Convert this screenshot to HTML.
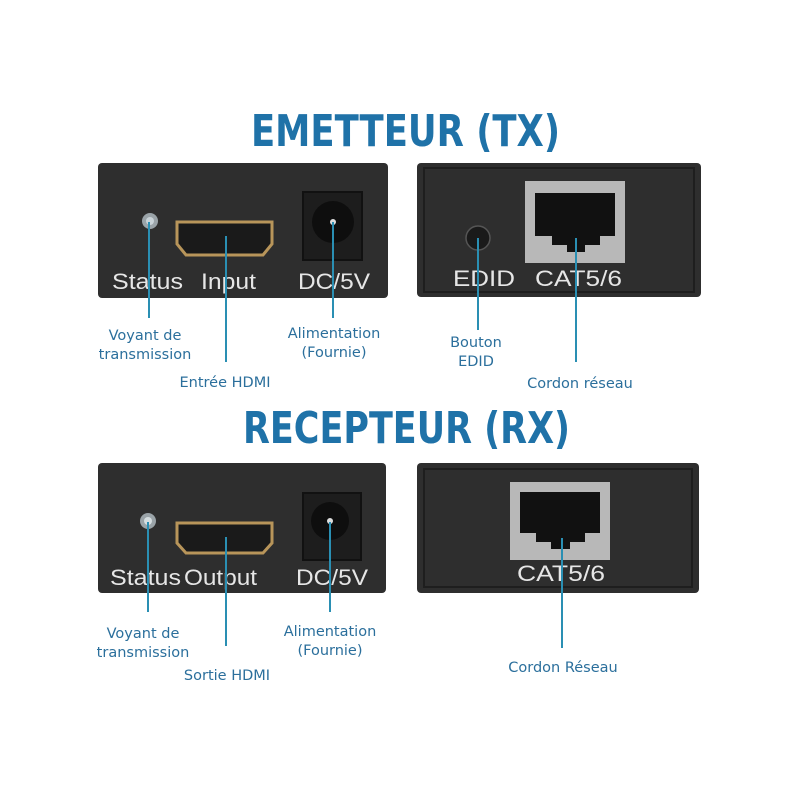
<!DOCTYPE html>
<html><head><meta charset="utf-8"><style>
html,body{margin:0;padding:0;background:#fff;}
svg{display:block;}
.t{font-family:"DejaVu Sans","Liberation Sans",sans-serif;font-weight:bold;fill:#1f72a8;}
.w{font-family:"Liberation Sans",sans-serif;fill:#e6e6e6;font-size:22px;}
.l{font-family:"DejaVu Sans","Liberation Sans",sans-serif;fill:#2b6f9c;font-size:14.5px;text-anchor:middle;}
.ln{stroke:#2a8fb3;stroke-width:2;}
</style></head><body>
<svg width="800" height="800" viewBox="0 0 800 800">
<rect width="800" height="800" fill="#fff"/>
<text class="t" x="251" y="146" font-size="44" textLength="309" lengthAdjust="spacingAndGlyphs">EMETTEUR (TX)</text>
<text class="t" x="243" y="443" font-size="44" textLength="327" lengthAdjust="spacingAndGlyphs">RECEPTEUR (RX)</text>

<!-- TX left -->
<rect x="98" y="163" width="290" height="135" rx="4" fill="#2e2e2e"/>
<circle cx="150" cy="221" r="8" fill="#9aa3a8"/><circle cx="150" cy="221" r="4" fill="#c9d3d8"/>
<path d="M177 222 H272 V244 L263 255 H186 L177 244 Z" fill="#1a1a1a" stroke="#b8955a" stroke-width="3"/>
<rect x="303" y="192" width="59" height="68" fill="#1d1d1d" stroke="#111" stroke-width="2"/>
<circle cx="333" cy="222" r="21" fill="#0e0e0e"/><circle cx="333" cy="222" r="3" fill="#ddd"/>
<text class="w" x="112" y="289" textLength="71" lengthAdjust="spacingAndGlyphs">Status</text>
<text class="w" x="201" y="289" textLength="55" lengthAdjust="spacingAndGlyphs">Input</text>
<text class="w" x="298" y="289" textLength="72" lengthAdjust="spacingAndGlyphs">DC/5V</text>
<line class="ln" x1="149" y1="222" x2="149" y2="318"/>
<line class="ln" x1="226" y1="236" x2="226" y2="362"/>
<line class="ln" x1="333" y1="222" x2="333" y2="318"/>
<text class="l" x="145" y="340">Voyant de</text><text class="l" x="145" y="359">transmission</text>
<text class="l" x="225" y="387">Entrée HDMI</text>
<text class="l" x="334" y="338">Alimentation</text><text class="l" x="334" y="357">(Fournie)</text>

<!-- TX right -->
<rect x="417" y="163" width="284" height="134" rx="4" fill="#2e2e2e"/>
<rect x="424" y="168" width="270" height="124" fill="none" stroke="#1e1e1e" stroke-width="2"/>
<circle cx="478" cy="238" r="12" fill="#1a1a1a" stroke="#555" stroke-width="1.5"/>
<rect x="525" y="181" width="100" height="82" fill="#b8b8b8"/>
<path d="M535 193 H615 V236 H600 V245 H585 V252 H567 V245 H552 V236 H535 Z" fill="#111"/>
<text class="w" x="453" y="286" textLength="62" lengthAdjust="spacingAndGlyphs">EDID</text>
<text class="w" x="535" y="286" textLength="87" lengthAdjust="spacingAndGlyphs">CAT5/6</text>
<line class="ln" x1="478" y1="238" x2="478" y2="330"/>
<line class="ln" x1="576" y1="238" x2="576" y2="362"/>
<text class="l" x="476" y="347">Bouton</text><text class="l" x="476" y="366">EDID</text>
<text class="l" x="580" y="388">Cordon réseau</text>

<!-- RX left -->
<rect x="98" y="463" width="288" height="130" rx="4" fill="#2e2e2e"/>
<circle cx="148" cy="521" r="8" fill="#9aa3a8"/><circle cx="148" cy="521" r="4" fill="#d5dde0"/>
<path d="M177 523 H272 V543 L263 553 H186 L177 543 Z" fill="#1a1a1a" stroke="#b8955a" stroke-width="3"/>
<rect x="303" y="493" width="58" height="67" fill="#1d1d1d" stroke="#111" stroke-width="2"/>
<circle cx="330" cy="521" r="19" fill="#0e0e0e"/><circle cx="330" cy="521" r="3" fill="#ddd"/>
<text class="w" x="110" y="585" textLength="71" lengthAdjust="spacingAndGlyphs">Status</text>
<text class="w" x="184" y="585" textLength="73" lengthAdjust="spacingAndGlyphs">Output</text>
<text class="w" x="296" y="585" textLength="72" lengthAdjust="spacingAndGlyphs">DC/5V</text>
<line class="ln" x1="148" y1="522" x2="148" y2="612"/>
<line class="ln" x1="226" y1="537" x2="226" y2="646"/>
<line class="ln" x1="330" y1="522" x2="330" y2="612"/>
<text class="l" x="143" y="638">Voyant de</text><text class="l" x="143" y="657">transmission</text>
<text class="l" x="227" y="680">Sortie HDMI</text>
<text class="l" x="330" y="636">Alimentation</text><text class="l" x="330" y="655">(Fournie)</text>

<!-- RX right -->
<rect x="417" y="463" width="282" height="130" rx="4" fill="#2e2e2e"/>
<rect x="424" y="469" width="268" height="118" fill="none" stroke="#1e1e1e" stroke-width="2"/>
<rect x="510" y="482" width="100" height="78" fill="#b8b8b8"/>
<path d="M520 492 H600 V533 H585 V542 H570 V549 H551 V542 H536 V533 H520 Z" fill="#111"/>
<text class="w" x="517" y="581" textLength="88" lengthAdjust="spacingAndGlyphs">CAT5/6</text>
<line class="ln" x1="562" y1="538" x2="562" y2="648"/>
<text class="l" x="563" y="672">Cordon Réseau</text>
</svg>
</body></html>
